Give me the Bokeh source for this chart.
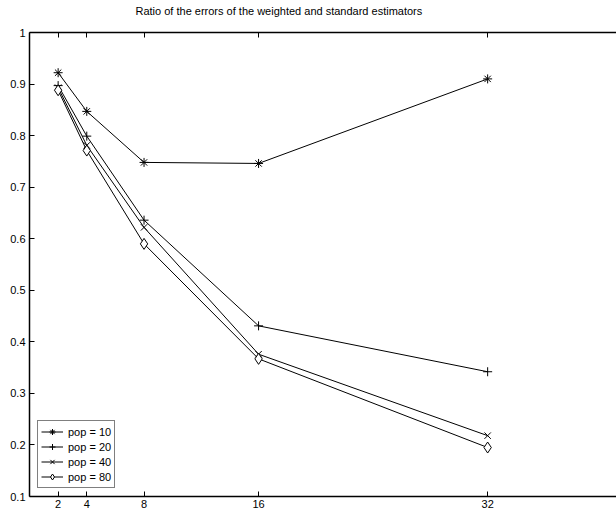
from bokeh.plotting import figure
from bokeh.models import FixedTicker, LinearAxis, Range1d, Legend, LegendItem, CustomLabelingPolicy
from bokeh.embed import file_html
from bokeh.resources import INLINE

x_vals = [2, 4, 8, 16, 32]
pop10 = [0.922, 0.847, 0.748, 0.746, 0.910]
pop20 = [0.897, 0.799, 0.636, 0.431, 0.342]
pop40 = [0.893, 0.781, 0.622, 0.376, 0.218]
pop80 = [0.888, 0.771, 0.590, 0.367, 0.195]
labels = ["pop = 10", "pop = 20", "pop = 40", "pop = 80"]
markers = ["asterisk", "cross", "x", "diamond"]
y_ticks = [0.1, 0.2, 0.3, 0.4, 0.5, 0.6, 0.7, 0.8, 0.9, 1.0]

FONT = "Liberation Sans"

p = figure(width=616, height=510, output_backend="svg", toolbar_location=None,
           x_range=Range1d(0, 41), y_range=Range1d(0.1, 1.0),
           min_border_left=29, min_border_right=0, min_border_top=0, min_border_bottom=0,
           x_axis_location=None, y_axis_location=None,
           title="Ratio of the errors of the weighted and standard estimators")
p.title.text_font = FONT
p.title.text_font_size = "11px"
p.title.text_font_style = "normal"
p.title.text_color = "black"
p.title.align = "left"
p.title.offset = 106
p.title.standoff = 4
p.outline_line_color = None
p.grid.visible = False
p.background_fill_color = "white"
p.border_fill_color = "white"

def style_axis(ax):
    ax.axis_line_color = "black"
    ax.axis_line_width = 1.5
    ax.major_tick_in = 5
    ax.major_tick_out = 0
    ax.minor_tick_in = 0
    ax.minor_tick_out = 0
    ax.major_tick_line_color = "black"
    ax.major_label_text_font = FONT
    ax.major_label_text_font_size = "11px"
    ax.major_label_text_color = "black"
    ax.major_label_standoff = 3

xb = LinearAxis(ticker=FixedTicker(ticks=x_vals))
style_axis(xb)
p.add_layout(xb, "below")

xt = LinearAxis(ticker=FixedTicker(ticks=x_vals))
style_axis(xt)
xt.major_label_policy = CustomLabelingPolicy(
    code="for (let i = 0; i < indices.size; i++) { indices.unset(i) }\nreturn indices")
p.add_layout(xt, "above")

yl = LinearAxis(ticker=FixedTicker(ticks=y_ticks))
style_axis(yl)
yl.major_label_overrides = {1: "1"}
yl.major_label_standoff = 4
p.add_layout(yl, "left")

series = [pop10, pop20, pop40, pop80]
items = []
for ys, lab, mk in zip(series, labels, markers):
    ln = p.line(x_vals, ys, line_color="black", line_width=1)
    sc = p.scatter(x_vals, ys, marker=mk, size=9 if mk != "diamond" else 11,
                   line_color="black", fill_color="white", line_width=1)
    items.append(LegendItem(label=lab, renderers=[ln, sc]))

legend = Legend(items=items, location="bottom_left")
legend.label_text_font = FONT
legend.label_text_font_size = "11px"
legend.label_text_color = "black"
legend.border_line_color = "black"
legend.border_line_width = 1
legend.background_fill_color = "white"
legend.background_fill_alpha = 1
legend.glyph_width = 22
legend.glyph_height = 15
legend.label_height = 15
legend.spacing = 0
legend.padding = 3
legend.margin = 8
legend.label_standoff = 5
p.add_layout(legend, "center")

open("out.html", "w").write(file_html(p, INLINE))
